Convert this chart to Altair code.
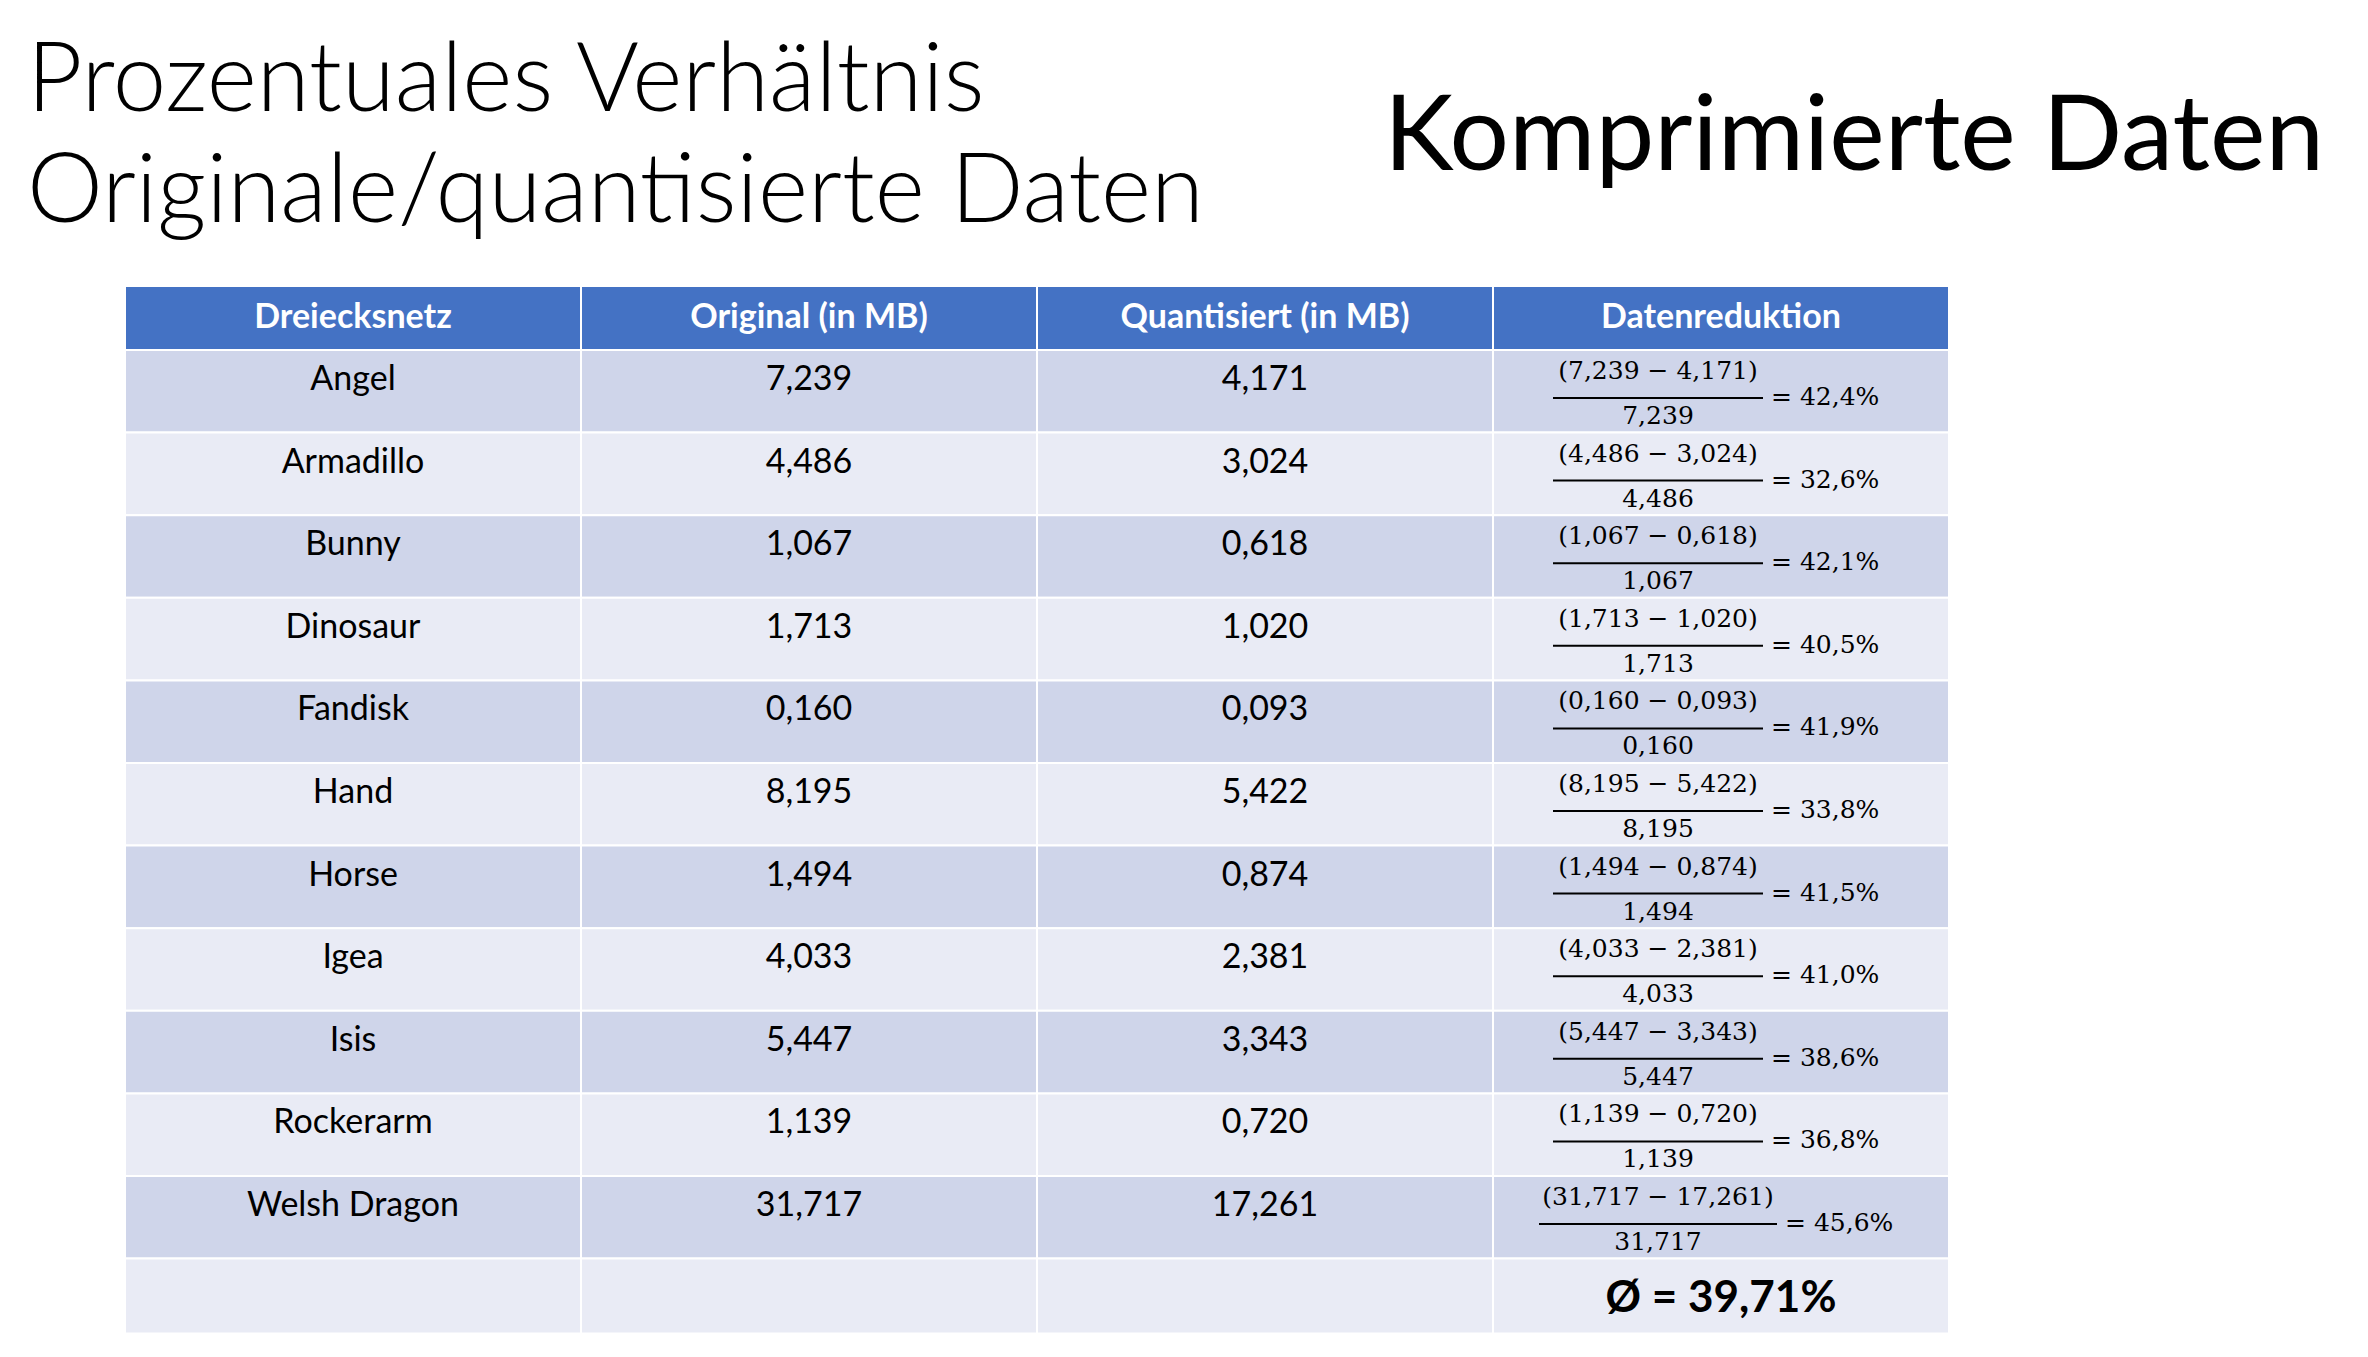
import altair as alt
import pandas as pd

headers = ["Dreiecksnetz", "Original (in MB)", "Quantisiert (in MB)", "Datenreduktion"]
names = ["Angel", "Armadillo", "Bunny", "Dinosaur", "Fandisk", "Hand", "Horse",
         "Igea", "Isis", "Rockerarm", "Welsh Dragon"]
original = ["7,239", "4,486", "1,067", "1,713", "0,160", "8,195", "1,494",
            "4,033", "5,447", "1,139", "31,717"]
quantized = ["4,171", "3,024", "0,618", "1,020", "0,093", "5,422", "0,874",
             "2,381", "3,343", "0,720", "17,261"]
reduction = ["42,4%", "32,6%", "42,1%", "40,5%", "41,9%", "33,8%", "41,5%",
             "41,0%", "38,6%", "36,8%", "45,6%"]
average = "Ø = 39,71%"

W, H = 2352, 1341
col_edges = [117, 573, 1029, 1485, 1941]
head_top, head_h, row_h, avg_h = 278, 64, 82.6, 75
frac_cx = 1650
char_w = 14.0

cells, texts, fracs = [], [], []
for c in range(4):
    cells.append(dict(x=col_edges[c], x2=col_edges[c + 1], y=head_top, y2=head_top + head_h, fill="#4472C4"))
    texts.append(dict(x=(col_edges[c] + col_edges[c + 1]) / 2, y=head_top + head_h / 2, t=headers[c]))
for i, n in enumerate(names + [""]):
    top = head_top + head_h + i * row_h
    h = avg_h if i == len(names) else row_h
    fill = "#CFD5EA" if i % 2 == 0 else "#E9EBF5"
    for c in range(4):
        cells.append(dict(x=col_edges[c], x2=col_edges[c + 1], y=top, y2=top + h, fill=fill))
    if i < len(names):
        for c, v in enumerate([n, original[i], quantized[i]]):
            texts.append(dict(x=(col_edges[c] + col_edges[c + 1]) / 2, y=top + 30, t=v))
        num = f"({original[i]} − {quantized[i]})"
        half = len(num) * char_w / 2
        fracs.append(dict(num=num, den=original[i], eq=f"= {reduction[i]}",
                          xc=frac_cx, xl=frac_cx - half, xr=frac_cx + half,
                          xe=frac_cx + half + 8, yn=top + 21, yl=top + 48,
                          yd=top + 66, ye=top + 47))

cells = pd.DataFrame(cells)
texts = pd.DataFrame(texts)
fracs = pd.DataFrame(fracs)

xs = alt.Scale(domain=[0, W], range=[0, W])
ys = alt.Scale(domain=[0, H], range=[0, H])

rects = alt.Chart(cells).mark_rect(stroke="white", strokeWidth=2).encode(
    x=alt.X("x:Q", scale=xs, axis=None), x2="x2:Q",
    y=alt.Y("y:Q", scale=ys, axis=None), y2="y2:Q",
    fill=alt.Fill("fill:N", scale=None))

head_txt = alt.Chart(texts.iloc[:4]).mark_text(
    font="Lato", fontSize=34, fontWeight="bold", color="white").encode(
    x=alt.X("x:Q", scale=xs), y=alt.Y("y:Q", scale=ys), text="t:N")
body_txt = alt.Chart(texts.iloc[4:]).mark_text(
    font="Lato", fontSize=34, color="black").encode(
    x=alt.X("x:Q", scale=xs), y=alt.Y("y:Q", scale=ys), text="t:N")

fb = alt.Chart(fracs)
serif = dict(font="DejaVu Serif", fontSize=25, color="black")
num_t = fb.mark_text(**serif).encode(x=alt.X("xc:Q", scale=xs), y=alt.Y("yn:Q", scale=ys), text="num:N")
den_t = fb.mark_text(**serif).encode(x=alt.X("xc:Q", scale=xs), y=alt.Y("yd:Q", scale=ys), text="den:N")
eq_t = fb.mark_text(align="left", **serif).encode(x=alt.X("xe:Q", scale=xs), y=alt.Y("ye:Q", scale=ys), text="eq:N")
line = fb.mark_rule(color="black", strokeWidth=2).encode(
    x=alt.X("xl:Q", scale=xs), x2="xr:Q", y=alt.Y("yl:Q", scale=ys))

avg_top = head_top + head_h + len(names) * row_h
avg_t = alt.Chart(pd.DataFrame({"x": [(col_edges[3] + col_edges[4]) / 2], "y": [avg_top + 40], "t": [average]})).mark_text(
    font="Lato", fontSize=44, fontWeight="bold", color="black").encode(
    x=alt.X("x:Q", scale=xs), y=alt.Y("y:Q", scale=ys), text="t:N")

titles = pd.DataFrame({
    "x": [19, 19, 2316], "y": [103, 214, 162],
    "t": ["Prozentuales Verhältnis", "Originale/quantisierte Daten", "Komprimierte Daten"],
    "a": ["l", "l", "r"]})
title_l = alt.Chart(titles[titles.a == "l"]).mark_text(
    font="Lato", fontSize=96, fontWeight=300, align="left", baseline="alphabetic", color="black").encode(
    x=alt.X("x:Q", scale=xs), y=alt.Y("y:Q", scale=ys), text="t:N")
title_r = alt.Chart(titles[titles.a == "r"]).mark_text(
    font="Lato", fontSize=105, align="right", baseline="alphabetic", color="black").encode(
    x=alt.X("x:Q", scale=xs), y=alt.Y("y:Q", scale=ys), text="t:N")

chart = alt.layer(rects, head_txt, body_txt, line, num_t, den_t, eq_t, avg_t, title_l, title_r).properties(
    width=W, height=H, padding=0, autosize="none", background="white"
).configure_view(stroke=None)

chart.save("out.html", embed_options={"renderer": "svg", "actions": False})
